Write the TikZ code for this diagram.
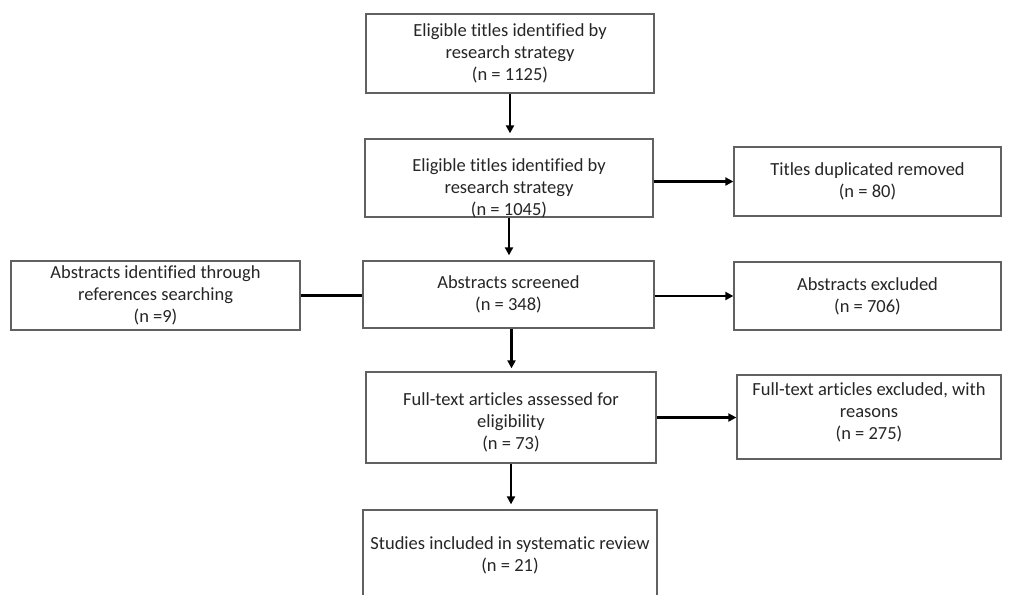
\documentclass[tikz,border=0pt]{standalone}
\usepackage{fontspec}
\setmainfont{Carlito}[Ligatures={NoCommon}]
\usetikzlibrary{arrows.meta}
\newcommand{\lowtext}[2]{\raisebox{-#1}[0pt][0pt]{\begin{tabular}{@{}c@{}}#2\end{tabular}}}
\begin{document}
\begin{tikzpicture}[x=1pt,y=-1pt,
  box/.style={draw=black!62, line width=1.3pt, align=center, inner sep=0pt,
    font=\fontsize{18.5}{22}\selectfont, text=black!85},
  flow/.style={line width=2.8pt, -{Triangle[length=8pt,width=8pt]}},
  linkline/.style={line width=3pt}]
\clip (0,0) rectangle (1014,594);
\fill[white] (0,0) rectangle (1014,594);
\node[box, minimum width=288, minimum height=79] (b1) at (510,53.5)
  {Eligible titles identified by\\research strategy\\(n = 1125)};
\node[box, minimum width=288, minimum height=78] (b2) at (509,178)
  {\lowtext{15.5pt}{Eligible titles identified by\\research strategy\\(n = 1045)}};
\node[box, minimum width=267, minimum height=69] (r2) at (867.5,181.5)
  {Titles duplicated removed\\(n = 80)};
\node[box, minimum width=289, minimum height=69] (l3) at (155.5,295.5)
  {Abstracts identified through\\references searching\\(n =9)};
\node[box, minimum width=291, minimum height=67] (b3) at (508.5,294.5)
  {Abstracts screened\\(n = 348)};
\node[box, minimum width=267, minimum height=68] (r3) at (867.5,296)
  {Abstracts excluded\\(n = 706)};
\node[box, minimum width=290, minimum height=91] (b4) at (511,417.5)
  {\lowtext{9.5pt}{Full-text articles assessed for\\eligibility\\(n = 73)}};
\node[box, minimum width=264, minimum height=84] (r4) at (869,417)
  {\lowtext{0.5pt}{Full-text articles excluded, with\\reasons\\(n = 275)}};
\node[box, minimum width=294, minimum height=91] (b5) at (510,555.5)
  {Studies included in systematic review\\(n = 21)};
\draw[flow, shorten >=5pt] (b1.south) -- (b1.south |- b2.north);
\draw[flow, shorten >=5pt] (b2.south) -- (b2.south |- b3.north);
\draw[flow, shorten >=3pt] ([xshift=3pt]b3.south) -- ([xshift=3pt]b3.south |- b4.north);
\draw[flow, shorten >=5pt] (b4.south) -- (b4.south |- b5.north);
\draw[flow] (b2.east |- r2.west) -- (r2.west);
\draw[flow] (b3.east |- r3.west) -- (r3.west);
\draw[flow] (b4.east) -- (b4.east -| r4.west);
\draw[linkline] (l3.east) -- (l3.east -| b3.west);
\end{tikzpicture}
\end{document}
